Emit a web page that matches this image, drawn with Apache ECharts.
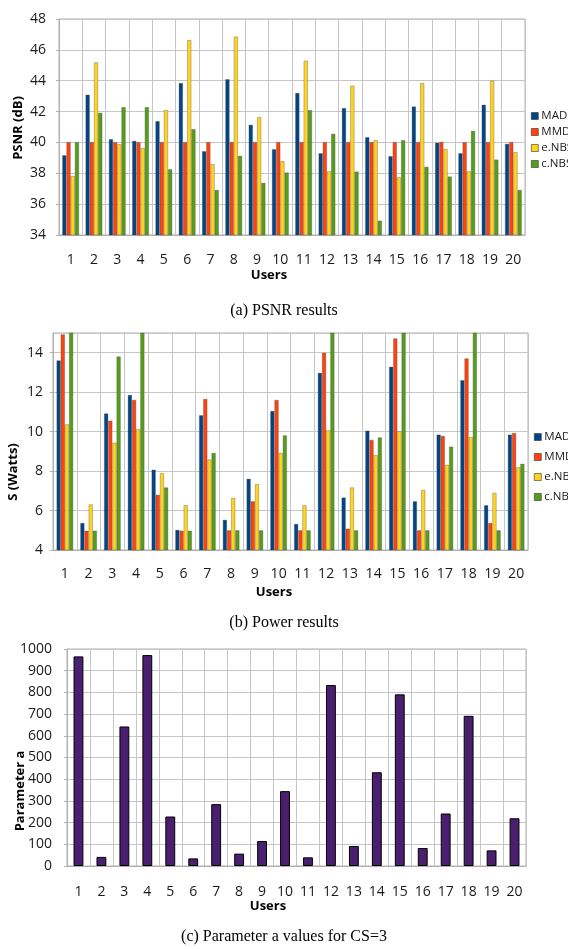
<!DOCTYPE html>
<html><head><meta charset="utf-8">
<script src="https://cdn.jsdelivr.net/npm/echarts@6/dist/echarts.min.js"></script>
<style>html,body{margin:0;padding:0;background:#fff}#c{width:568px;height:949px}</style>
</head><body><div id="c"></div>
<script>
const users = ['1','2','3','4','5','6','7','8','9','10','11','12','13','14','15','16','17','18','19','20'];
const seriesNames = ['MAD','MMD','e.NBS','c.NBS'];
// (a) PSNR (dB)
const psnrMAD  = [39.17,43.09,40.21,40.10,41.38,43.85,39.43,44.10,41.14,39.56,43.20,39.30,42.23,40.34,39.11,42.33,39.98,39.30,42.44,39.91];
const psnrMMD  = [40.02,40.02,40.02,40.02,40.02,40.02,40.02,40.02,40.02,40.02,40.02,40.02,40.02,40.02,40.02,40.02,40.03,40.02,40.02,40.02];
const psnrENBS = [37.83,45.19,39.89,39.63,42.10,46.64,38.59,46.86,41.64,38.78,45.30,38.13,43.68,40.15,37.74,43.85,39.56,38.13,44.00,39.37];
const psnrCNBS = [40.02,41.92,42.29,42.29,38.26,40.86,36.92,39.13,37.38,38.05,42.10,40.56,38.11,34.93,40.15,38.42,37.79,40.75,38.89,36.92];
const psnrTicks = [34,48,2];
// (b) Power S (Watts)
const powMAD  = [13.61,5.37,10.92,11.86,8.07,5.02,10.83,5.53,7.61,11.05,5.32,12.98,6.66,10.05,13.29,6.47,9.85,12.61,6.27,9.85];
const powMMD  = [14.93,4.98,10.56,11.61,6.80,4.98,11.66,5.00,6.47,11.61,5.00,14.00,5.08,9.58,14.73,5.00,9.78,13.71,5.37,9.93];
const powENBS = [10.37,6.31,9.44,10.12,7.90,6.27,8.59,6.64,7.34,8.92,6.27,10.07,7.17,8.81,10.02,7.05,8.32,9.73,6.90,8.19];
const powCNBS = [15.5,4.98,13.81,15.5,7.17,4.98,8.92,5.00,5.00,9.81,5.00,15.5,5.00,9.71,15.5,5.00,9.24,15.5,5.00,8.37];
const powTicks = [4,15,2];
// (c) Parameter a
const paramA = [966,42,643,972,228,35,285,57,115,345,40,834,92,432,791,83,242,692,72,220];
const paramTicks = [0,1000,100];

const colors = ['#004586','#ff420e','#ffd320','#579d1c'];
const purple = '#4b1f6f';
const tickFont = '"Open Sans"';
const gridColor = '#c6c6c6';

function xAx(gi, margin){
  return {type:'category', gridIndex:gi, data:users, boundaryGap:true,
    axisLine:{show:true, lineStyle:{color:'#b0b0b0', width:1}},
    axisTick:{show:false},
    axisLabel:{interval:0, margin:margin, fontFamily:tickFont, fontSize:14, color:'#1a1a1a'},
    splitLine:{show:true, interval:0, lineStyle:{color:gridColor, width:1}}};
}
function yAx(gi, t, margin){
  return {type:'value', gridIndex:gi, min:t[0], max:t[1], interval:t[2],
    axisLine:{show:true, lineStyle:{color:'#b0b0b0', width:1}},
    axisTick:{show:true, length:3, lineStyle:{color:'#b0b0b0'}},
    axisLabel:{margin:margin, fontFamily:tickFont, fontSize:14, color:'#1a1a1a',
      showMaxLabel: (t[1]-t[0]) % t[2] === 0, formatter:(v)=>String(v)},
    splitLine:{show:true, lineStyle:{color:gridColor, width:1}}};
}
function groupSeries(gi, arrs, gap){
  return arrs.map((d,i)=>({name:seriesNames[i], type:'bar', xAxisIndex:gi, yAxisIndex:gi, data:d,
    barGap:'0%', barCategoryGap:gap, clip:true,
    itemStyle:{color:colors[i], borderColor:'rgba(70,70,70,0.55)', borderWidth:0.6},
    emphasis:{disabled:true}}));
}
function legend(top, left, gap){
  return {show:true, orient:'vertical', left:left, top:top, itemGap:gap, itemWidth:7, itemHeight:7, icon:'rect',
    data:seriesNames, textStyle:{fontFamily:tickFont, fontSize:11.5, color:'#1a1a1a', padding:[0,0,0,-2]},
    selectedMode:false, itemStyle:{borderColor:'#333', borderWidth:0.6}};
}
function txt(x,y,text,font,rot){
  return {type:'text', x:x, y:y, rotation:rot||0, silent:true,
    style:{text:text, font:font, fill:'#000', textAlign:'center', textVerticalAlign:'middle', align:'center', verticalAlign:'middle'}};
}
const axisTitleFont = 'bold 13px "Open Sans"';
const capFont = '16px "Liberation Serif"';

const chart = echarts.init(document.getElementById('c'), null, {renderer:'canvas'});
chart.setOption({
  animation:false,
  backgroundColor:'#fff',
  grid:[
    {left:59, right:43, top:19, height:216, show:true, borderColor:'#b0b0b0', borderWidth:1},
    {left:53, right:40, top:333, height:217, show:true, borderColor:'#b0b0b0', borderWidth:1},
    {left:67, right:42, top:649, height:217, show:true, borderColor:'#b0b0b0', borderWidth:1}
  ],
  xAxis:[xAx(0,18), xAx(1,17), xAx(2,19)],
  yAxis:[yAx(0,psnrTicks,13), yAx(1,powTicks,10), yAx(2,paramTicks,15)],
  legend:[legend(105,526,4), legend(426,529,8)],
  series:[
    ...groupSeries(0,[psnrMAD,psnrMMD,psnrENBS,psnrCNBS],'28%'),
    ...groupSeries(1,[powMAD,powMMD,powENBS,powCNBS],'30%'),
    {name:'Parameter a', type:'bar', xAxisIndex:2, yAxisIndex:2, data:paramA, barWidth:'43%',
      itemStyle:{color:purple, borderColor:'#000', borderWidth:1}, emphasis:{disabled:true}}
  ],
  graphic:[
    txt(18,128,'PSNR (dB)',axisTitleFont,Math.PI/2),
    txt(13,472,'S (Watts)',axisTitleFont,Math.PI/2),
    txt(20,791,'Parameter a',axisTitleFont,Math.PI/2),
    txt(269,275,'Users',axisTitleFont),
    txt(274,592,'Users',axisTitleFont),
    txt(268,906,'Users',axisTitleFont),
    txt(284,311,'(a) PSNR results',capFont),
    txt(284,623,'(b) Power results',capFont),
    txt(284,937,'(c) Parameter a values for CS=3',capFont)
  ]
});
</script>
</body></html>
